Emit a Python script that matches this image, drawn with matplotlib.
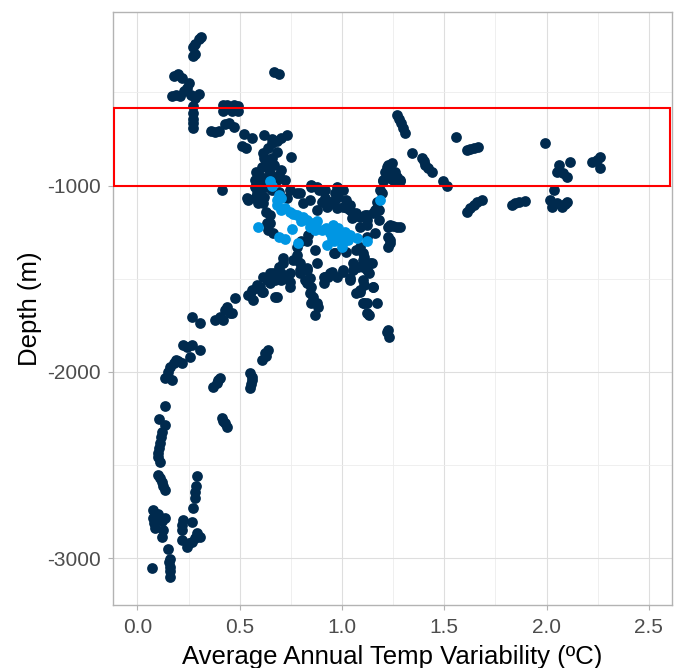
import matplotlib
matplotlib.use('Agg')
import matplotlib.pyplot as plt
from matplotlib.patches import Rectangle

plt.rcParams['font.family'] = ['Liberation Sans', 'DejaVu Sans']
plt.rcParams['axes.unicode_minus'] = False

# dark points: (variability, depth)
dark_pts = [
    # shallow, left
    (0.31, -205), (0.30, -215), (0.28, -240), (0.27, -255), (0.28, -295), (0.27, -305),
    (0.20, -400), (0.18, -410), (0.22, -420), (0.25, -450), (0.24, -475), (0.23, -495),
    (0.19, -515), (0.17, -520), (0.21, -520), (0.26, -515), (0.30, -510), (0.28, -530),
    (0.27, -575), (0.27, -610), (0.27, -640), (0.27, -665), (0.27, -690),
    (0.67, -390), (0.69, -400),
    (0.42, -565), (0.44, -570), (0.47, -565), (0.49, -575), (0.42, -600), (0.46, -600),
    (0.49, -600), (0.43, -670), (0.45, -665), (0.47, -685), (0.36, -705), (0.38, -710), (0.40, -705),
    (0.52, -725), (0.56, -745), (0.51, -790), (0.53, -800), (0.62, -730), (0.66, -750),
    (0.70, -745), (0.73, -730), (0.75, -845), (0.68, -760),
    # column near 0.65
    (0.615, -826), (0.63, -871), (0.61, -898), (0.67, -889), (0.70, -916), (0.58, -925),
    (0.65, -934), (0.575, -969), (0.72, -969), (0.68, -969), (0.615, -978), (0.66, -772),
    (0.64, -800), (0.68, -820), (0.62, -850), (0.66, -850), (0.64, -905), (0.60, -950),
    (0.64, -955), (0.69, -945), (0.60, -990), (0.63, -1010), (0.575, -1005),
    (0.412, -1023), (0.535, -1068), (0.575, -1068), (0.615, -1095), (0.542, -1075),
    (0.583, -1041), (0.615, -1068), (0.59, -1095), (0.60, -1030), (0.62, -1060),
    (0.648, -1202), (0.64, -1238), (0.632, -1202), (0.665, -1256), (0.65, -1160), (0.63, -1140),
    # dense centre
    (0.66, -1023), (0.69, -1032), (0.73, -1068), (0.746, -1023), (0.78, -1041), (0.795, -1041),
    (0.81, -1095), (0.85, -996), (0.85, -1005), (0.89, -1023), (0.90, -1023), (0.917, -1068),
    (0.877, -1130), (0.925, -1113), (0.966, -1041), (0.98, -1059), (1.007, -1023), (1.02, -1077),
    (0.94, -1086), (0.90, -1086), (0.975, -1121), (1.04, -1104), (1.056, -1166), (1.07, -1148),
    (1.089, -1220), (1.12, -1184), (1.12, -1157), (1.16, -1130), (1.17, -1086), (1.17, -1121),
    (1.18, -1184), (1.16, -1256), (0.844, -1077), (0.917, -1023), (0.958, -1095), (1.023, -1121),
    (1.048, -1175), (1.089, -1166), (1.12, -1211), (1.154, -1148), (1.186, -1023), (1.195, -1041),
    (1.178, -1130), (1.113, -1157), (1.04, -1130), (0.966, -1077), (0.975, -1041), (1.007, -1113),
    (1.12, -1274), (1.089, -1327), (0.877, -1008), (0.976, -1008), (0.83, -1300), (0.87, -1345),
    (0.96, -1363), (1.02, -1354), (1.07, -1345), (1.11, -1381), (1.056, -1417), (0.835, -1265),
    (0.80, -1300), (0.78, -1330),
    # streak near 1.25
    (1.22, -898), (1.235, -960), (1.20, -978), (1.25, -969), (1.227, -889), (1.21, -925),
    (1.26, -925), (1.20, -969), (1.284, -969), (1.244, -880), (1.268, -952), (1.284, -978), (1.23, -910),
    (1.227, -1220), (1.284, -1220), (1.235, -1291), (1.227, -1327), (1.235, -1211), (1.27, -1220),
    (1.227, -1274), (1.235, -1309), (1.18, -1130), (1.25, -1215),
    # lower centre
    (1.105, -1363), (1.137, -1417), (1.15, -1542), (1.105, -1631), (1.12, -1685), (1.007, -1462),
    (1.07, -1578), (1.227, -1775), (1.23, -1811), (1.22, -1784), (1.12, -1452), (1.17, -1631),
    (1.11, -1631), (1.09, -1560), (1.007, -1452), (1.04, -1506), (0.975, -1488), (1.056, -1452),
    (1.105, -1435), (1.146, -1417), (1.105, -1506), (1.089, -1569), (1.13, -1694), (0.966, -1363),
    (0.95, -1462), (1.04, -1497), (1.08, -1435), (1.105, -1399), (1.13, -1470), (1.11, -1533),
    (1.154, -1542), (1.12, -1631),
    # lower left arm
    (0.71, -1390), (0.76, -1399), (0.69, -1435), (0.65, -1470), (0.615, -1488), (0.583, -1533),
    (0.56, -1560), (0.70, -1506), (0.746, -1470), (0.795, -1452), (0.82, -1506), (0.877, -1417),
    (0.91, -1488), (0.94, -1470), (0.85, -1542), (0.86, -1596), (0.877, -1631), (0.87, -1694),
    (0.673, -1596), (0.615, -1569), (0.477, -1604), (0.428, -1667), (0.42, -1721), (0.55, -1587),
    (0.567, -1613), (0.607, -1569), (0.68, -1596), (0.632, -1506), (0.665, -1470), (0.713, -1417),
    (0.78, -1372), (0.83, -1452), (0.746, -1542), (0.83, -1524), (0.845, -1578), (0.85, -1631),
    (0.885, -1650), (0.933, -1488), (0.91, -1524), (0.844, -1497), (0.917, -1488), (0.72, -1497),
    (0.746, -1515), (0.795, -1470), (0.83, -1443), (0.78, -1399), (0.795, -1417), (0.65, -1524),
    (0.60, -1542), (0.542, -1587), (0.583, -1551), (0.436, -1650), (0.453, -1685), (0.404, -1703),
    (0.38, -1721), (0.46, -1685), (0.70, -1470), (0.673, -1506),
    # deep left
    (0.265, -1703), (0.306, -1739), (0.224, -1855), (0.265, -1855), (0.306, -1882), (0.257, -1918),
    (0.19, -1936), (0.159, -1972), (0.151, -2026), (0.167, -2043), (0.135, -2034), (0.216, -1954),
    (0.24, -1865), (0.18, -1950), (0.20, -1940), (0.15, -2000),
    (0.624, -1900), (0.64, -1882), (0.607, -1936), (0.63, -1915), (0.55, -2007), (0.559, -2043),
    (0.55, -2088), (0.559, -2026), (0.553, -2065), (0.404, -2034), (0.387, -2061), (0.371, -2079),
    (0.395, -2045), (0.412, -2249), (0.428, -2276), (0.436, -2294), (0.42, -2262),
    (0.135, -2183), (0.107, -2254), (0.135, -2285), (0.118, -2320), (0.113, -2347), (0.11, -2383),
    (0.105, -2410), (0.102, -2437), (0.11, -2481), (0.102, -2455), (0.102, -2553), (0.118, -2589),
    (0.135, -2634), (0.125, -2610), (0.11, -2570),
    (0.077, -2741), (0.077, -2785), (0.086, -2839), (0.135, -2785), (0.126, -2848), (0.118, -2884),
    (0.08, -2810), (0.10, -2760), (0.12, -2800),
    (0.29, -2558), (0.28, -2643), (0.28, -2678), (0.273, -2732), (0.285, -2610), (0.224, -2795),
    (0.216, -2848), (0.216, -2902), (0.24, -2938), (0.265, -2804), (0.29, -2866), (0.306, -2884),
    (0.265, -2911), (0.22, -2820), (0.25, -2920), (0.28, -2890),
    (0.151, -2948), (0.159, -3002), (0.159, -3045), (0.159, -3099), (0.07, -3054), (0.155, -3020),
    (0.16, -3070),
    # right streaks
    (1.268, -620), (1.28, -640), (1.29, -665), (1.30, -690), (1.31, -719), (1.558, -740),
    (1.61, -808), (1.625, -803), (1.643, -799), (1.667, -794),
    (1.34, -826), (1.39, -853), (1.40, -870), (1.407, -889), (1.42, -905), (1.44, -925),
    (1.496, -978), (1.513, -1002),
    (1.994, -772), (2.059, -889), (2.05, -925), (2.10, -952), (2.113, -871), (2.08, -930),
    (2.263, -844), (2.222, -871), (2.263, -907), (2.245, -860),
    (1.61, -1140), (1.625, -1122), (1.643, -1104), (1.66, -1090), (1.684, -1077),
    (1.83, -1104), (1.845, -1095), (1.863, -1086), (1.896, -1081),
    (2.035, -1023), (2.018, -1077), (2.026, -1113), (2.075, -1113), (2.10, -1086), (2.05, -1095),
    (2.09, -1100),
]

# highlighted points
blue_pts = [
    (0.65, -978), (0.66, -1000), (0.69, -1050), (0.70, -1065), (0.68, -1080), (0.68, -1104),
    (0.72, -1120), (0.70, -1130), (0.746, -1140), (0.76, -1150), (0.78, -1157), (0.81, -1170),
    (0.80, -1190), (0.83, -1184), (0.85, -1200), (0.87, -1211), (0.88, -1190), (0.90, -1238),
    (0.92, -1225), (0.942, -1256), (0.958, -1211), (0.97, -1240), (0.99, -1274), (1.015, -1247),
    (1.04, -1265), (1.072, -1282), (1.12, -1300), (0.925, -1318), (0.96, -1300), (1.0, -1327),
    (1.01, -1300), (0.59, -1220), (0.69, -1274), (0.72, -1288), (0.754, -1233), (0.787, -1309),
    (1.186, -1077), (0.844, -1220), (0.87, -1238), (0.95, -1280), (0.98, -1225), (1.03, -1290),
]

dark_x = [p[0] for p in dark_pts]
dark_y = [p[1] for p in dark_pts]
blue_x = [p[0] for p in blue_pts]
blue_y = [p[1] for p in blue_pts]

box_depth = (-1000, -585)
xticks = [0.0, 0.5, 1.0, 1.5, 2.0, 2.5]
yticks = [-1000, -2000, -3000]

fig = plt.figure(figsize=(6.76, 6.68), dpi=100, facecolor='white')
ax = fig.add_axes([0.167, 0.0943, 0.827, 0.887])

ax.scatter(dark_x, dark_y, s=60, color='#002A4E', linewidths=0, zorder=3)
ax.scatter(blue_x, blue_y, s=60, color='#0096E3', linewidths=0, zorder=4)

ax.set_xlim(-0.12, 2.613)
ax.set_ylim(-3251, -71)

ax.add_patch(Rectangle((-0.115, box_depth[0]), 2.72, box_depth[1] - box_depth[0],
                       fill=False, edgecolor='#FF0000', linewidth=1.5, zorder=5))

ax.set_xticks(xticks)
ax.set_xticklabels(['%.1f' % t for t in xticks])
ax.set_yticks(yticks)
ax.set_yticklabels([str(t) for t in yticks])
ax.set_xticks([0.25, 0.75, 1.25, 1.75, 2.25], minor=True)
ax.set_yticks([-500, -1500, -2500], minor=True)
ax.grid(which='major', color='#DEDEDE', linewidth=0.8, zorder=0)
ax.grid(which='minor', color='#EDEDED', linewidth=0.6, zorder=0)
ax.set_axisbelow(True)

ax.tick_params(which='major', length=3.5, width=0.8, color='#B3B3B3', labelsize=15,
               labelcolor='#4D4D4D', pad=5.5)
ax.tick_params(which='minor', length=0)
for sp in ax.spines.values():
    sp.set_color('#B3B3B3')
    sp.set_linewidth(1.0)

ax.set_xlabel('Average Annual Temp Variability (ºC)', fontsize=18.5, labelpad=6)
ax.set_ylabel('Depth (m)', fontsize=18.5, labelpad=3)

plt.savefig('out.png', dpi=100)
